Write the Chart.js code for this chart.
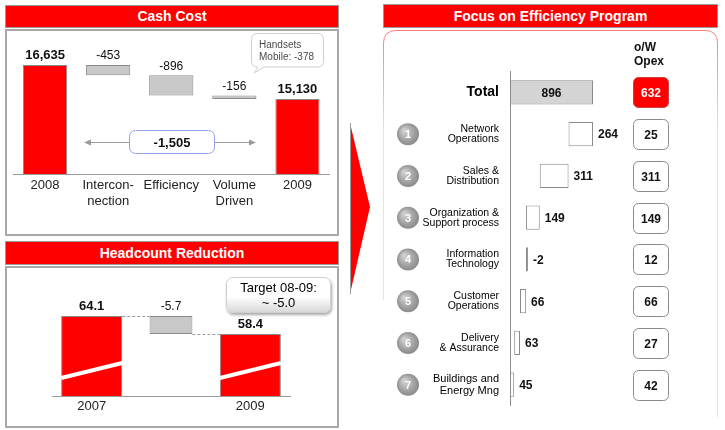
<!DOCTYPE html>
<html>
<head>
<meta charset="utf-8">
<script src="https://cdn.jsdelivr.net/npm/chart.js@4.4.1/dist/chart.umd.min.js"></script>
<style>
body { margin: 0; width: 725px; height: 430px; background: #fff; position: relative; overflow: hidden; font-family: 'Liberation Sans', Arial, sans-serif; }
.hdr { position: absolute; box-sizing: border-box; background: #ff0000; border: 1px solid #9a9a9a; color: #fff; font-weight: bold; font-size: 14px; text-align: center; }
.panel { position: absolute; box-sizing: border-box; border: 2px solid #a8a8a8; }
canvas { position: absolute; }
#target { position: absolute; left: 226px; top: 277px; width: 105px; height: 36px; box-sizing: border-box; border: 1px solid #d0d0d0; border-radius: 7px;
  background: linear-gradient(#fff 55%, #d8d8d8); box-shadow: 1px 2px 3px rgba(0,0,0,0.35); text-align: center; font-size: 13px; line-height: 15px; padding-top: 2px; color: #000; }
#opexHead { position: absolute; left: 634px; top: 40px; font-weight: bold; font-size: 12px; line-height: 14px; color: #111; }
</style>
</head>
<body>
<div class="hdr" style="left:5px;top:5px;width:334px;height:23px;line-height:21px">Cash Cost</div>
<div class="panel" style="left:5px;top:29px;width:334px;height:207px"></div>
<div class="hdr" style="left:5px;top:241px;width:334px;height:24px;line-height:22px">Headcount Reduction</div>
<div class="panel" style="left:5px;top:266px;width:334px;height:162px"></div>
<div class="hdr" style="left:383px;top:4px;width:335px;height:24px;line-height:22px">Focus on Efficiency Program</div>

<svg width="725" height="430" style="position:absolute;left:0;top:0">
  <defs>
    <linearGradient id="rim" gradientUnits="userSpaceOnUse" x1="0" y1="30" x2="0" y2="130">
      <stop offset="0" stop-color="#ff7a7a"/>
      <stop offset="1" stop-color="#e2e2e2"/>
    </linearGradient>
  </defs>
  <!-- right panel rim -->
  <path d="M383.5 300 L383.5 43 Q383.5 30.5 396 30.5 L705 30.5 Q717.5 30.5 717.5 43 L717.5 417" fill="none" stroke="url(#rim)" stroke-width="1"/>
  <!-- chevron -->
  <polygon points="350,123 370,207 350,294" fill="#ff0000"/>
  <line x1="350.5" y1="123" x2="350.5" y2="294" stroke="#999" stroke-width="1"/>
</svg>

<canvas id="cash" width="329" height="202" style="left:7px;top:31px"></canvas>
<canvas id="heads" width="329" height="157" style="left:7px;top:268px"></canvas>
<canvas id="eff" width="333" height="395" style="left:384px;top:30px"></canvas>

<svg width="725" height="430" style="position:absolute;left:0;top:0">
  <!-- total change arrow -->
  <line x1="90" y1="142.5" x2="129" y2="142.5" stroke="#9a9a9a" stroke-width="1"/>
  <line x1="215" y1="142.5" x2="250" y2="142.5" stroke="#9a9a9a" stroke-width="1"/>
  <polygon points="84,142.5 91,139.5 91,145.5" fill="#9a9a9a"/>
  <polygon points="256,142.5 249,139.5 249,145.5" fill="#9a9a9a"/>
  <rect x="129.5" y="130.5" width="85" height="23" rx="6" fill="#fff" stroke="#8ea2ee" stroke-width="1"/>
  <text x="172" y="147" text-anchor="middle" font-family="Liberation Sans, Arial" font-weight="bold" font-size="13" fill="#111">-1,505</text>
  <!-- handsets callout -->
  <path d="M257.5 33.5 L317.5 33.5 Q323.5 33.5 323.5 39.5 L323.5 61 Q323.5 67 317.5 67 L264 67 L254 73 L258 67 L257.5 67 Q251.5 67 251.5 61 L251.5 39.5 Q251.5 33.5 257.5 33.5 Z"
        fill="#fff" stroke="#cfcfcf" stroke-width="1"/>
  <text x="259" y="48" font-family="Liberation Sans, Arial" font-size="10" fill="#4a4a4a">Handsets</text>
  <text x="259" y="60" font-family="Liberation Sans, Arial" font-size="10" fill="#4a4a4a">Mobile: -378</text>
</svg>

<div id="target">Target 08-09:<br>~ -5.0</div>
<div id="opexHead">o/W<br>Opex</div>

<script>
const FONT = "'Liberation Sans', Arial, sans-serif";
const NARROW = "'Liberation Sans Narrow', 'Liberation Sans', Arial, sans-serif";

// cash cost waterfall
const cashCategories = ['2008', ['Intercon-', 'nection'], 'Efficiency', ['Volume', 'Driven'], '2009'];
const cashStart = 16635;
const cashDeltas = [-453, -896, -156];
const cashEnd = 15130;

// headcount
const hcCategories = ['2007', '', '2009'];
const hcStart = 64.1;
const hcDelta = -5.7;
const hcEnd = 58.4;

// efficiency program
const effLabels = ['Total', ['Network', 'Operations'], ['Sales &', 'Distribution'], ['Organization &', 'Support process'],
  ['Information', 'Technology'], ['Customer', 'Operations'], ['Delivery', '& Assurance'], ['Buildings and', 'Energy Mng']];
const effTotal = 896;
const effSavings = [264, 311, 149, -2, 66, 63, 45];
const opexValues = [632, 25, 311, 149, 12, 66, 27, 42];

const fmt = v => v.toLocaleString('en-US');

// build waterfall pieces
function waterfall(start, deltas) {
    const out = [];
    let level = start;
    deltas.forEach(d => {
        out.push([level + d, level]);
        level += d;
    });
    return out;
}

// value labels above bars
const topLabels = {
    id: 'topLabels',
    afterDatasetsDraw(chart) {
        const ctx = chart.ctx;
        ctx.save();
        ctx.textAlign = 'center';
        ctx.textBaseline = 'bottom';
        ctx.fillStyle = '#111';
        chart.data.datasets.forEach((ds, d) => {
            chart.getDatasetMeta(d).data.forEach((bar, i) => {
                if (ds.data[i] === null) return;
                const top = Math.min(bar.y, bar.base);
                ctx.font = ds.labelBold ? 'bold 13px ' + FONT : '12px ' + FONT;
                ctx.fillText(ds.valueLabels[i], bar.x, top - 3);
            });
        });
        ctx.restore();
    }
};

// cash cost chart
const cashDeltaBars = waterfall(cashStart, cashDeltas);
new Chart(document.getElementById('cash'), {
    type: 'bar',
    data: {
        labels: cashCategories,
        datasets: [
            {
                data: [cashStart, null, null, null, cashEnd],
                valueLabels: [fmt(cashStart), '', '', '', fmt(cashEnd)],
                labelBold: true,
                backgroundColor: '#ff0000',
                borderColor: '#8a8a8a',
                borderWidth: 1,
                borderSkipped: false,
                barPercentage: 0.7,
                categoryPercentage: 1,
                grouped: false
            },
            {
                data: [null, ...cashDeltaBars, null],
                valueLabels: ['', ...cashDeltas.map(fmt), ''],
                labelBold: false,
                backgroundColor: '#c8c8c8',
                borderColor: '#8a8a8a',
                borderWidth: 1,
                borderSkipped: false,
                barPercentage: 0.7,
                categoryPercentage: 1,
                grouped: false
            }
        ]
    },
    options: {
        responsive: false,
        animation: false,
        layout: { padding: { left: 6.5, right: 7, top: 0, bottom: 0 } },
        plugins: { legend: { display: false }, tooltip: { enabled: false } },
        scales: {
            x: {
                grid: { display: false, drawTicks: false },
                border: { color: '#9a9a9a' },
                ticks: { color: '#222', padding: 3, maxRotation: 0, autoSkip: false, font: { family: FONT, size: 13, lineHeight: 1.23 } },
                afterFit: s => { s.height = 59; }
            },
            y: { display: false, min: 11810, max: 18140 }
        }
    },
    plugins: [topLabels]
});

// headcount chart
const hcConnect = {
    id: 'hcConnect',
    afterDatasetsDraw(chart) {
        const ctx = chart.ctx;
        const bottom = chart.chartArea.bottom;
        const red = chart.getDatasetMeta(0).data;
        const gray = chart.getDatasetMeta(1).data[1];
        ctx.save();
        // white break stripes
        ctx.strokeStyle = '#fff';
        ctx.lineWidth = 4;
        [red[0], red[2]].forEach(b => {
            ctx.beginPath();
            ctx.moveTo(b.x - b.width / 2, bottom - 18);
            ctx.lineTo(b.x + b.width / 2, bottom - 33);
            ctx.stroke();
        });
        // dashed connectors
        ctx.strokeStyle = '#9a9a9a';
        ctx.lineWidth = 1;
        ctx.setLineDash([3, 2]);
        const gTop = Math.min(gray.y, gray.base), gBot = Math.max(gray.y, gray.base);
        ctx.beginPath();
        ctx.moveTo(red[0].x + red[0].width / 2, Math.round(red[0].y) + 0.5);
        ctx.lineTo(gray.x - gray.width / 2, Math.round(gTop) + 0.5);
        ctx.moveTo(gray.x + gray.width / 2, Math.round(gBot) + 0.5);
        ctx.lineTo(red[2].x - red[2].width / 2, Math.round(red[2].y) + 0.5);
        ctx.stroke();
        ctx.restore();
    }
};

new Chart(document.getElementById('heads'), {
    type: 'bar',
    data: {
        labels: hcCategories,
        datasets: [
            {
                data: [hcStart, null, hcEnd],
                valueLabels: [hcStart.toFixed(1), '', hcEnd.toFixed(1)],
                labelBold: true,
                backgroundColor: '#ff0000',
                borderColor: '#8a8a8a',
                borderWidth: 1,
                borderSkipped: false,
                barPercentage: 0.77,
                categoryPercentage: 1,
                grouped: false
            },
            {
                data: [null, [hcStart + hcDelta, hcStart], null],
                valueLabels: ['', hcDelta.toFixed(1), ''],
                labelBold: false,
                backgroundColor: '#c8c8c8',
                borderColor: '#8a8a8a',
                borderWidth: 1,
                borderSkipped: false,
                barPercentage: 0.54,
                categoryPercentage: 1,
                grouped: false
            }
        ]
    },
    options: {
        responsive: false,
        animation: false,
        layout: { padding: { left: 45, right: 46, top: 0, bottom: 0 } },
        plugins: { legend: { display: false }, tooltip: { enabled: false } },
        scales: {
            x: {
                grid: { display: false, drawTicks: false },
                border: { color: '#9a9a9a' },
                ticks: { color: '#222', padding: 3, maxRotation: 0, autoSkip: false, font: { family: FONT, size: 13 } },
                afterFit: s => { s.height = 29; }
            },
            y: { display: false, min: 38.77, max: 79.3 }
        }
    },
    plugins: [topLabels, hcConnect]
});

// efficiency program chart
const effBars = [[0, effTotal], ...waterfall(effTotal, effSavings.map(v => -v))];

const effDecor = {
    id: 'effDecor',
    afterDatasetsDraw(chart) {
        const ctx = chart.ctx;
        const yScale = chart.scales.y;
        const left = chart.chartArea.left;
        const bars = chart.getDatasetMeta(0).data;
        ctx.save();
        ctx.textBaseline = 'middle';
        // value labels
        bars.forEach((b, i) => {
            ctx.fillStyle = '#111';
            ctx.font = 'bold 12px ' + FONT;
            if (i === 0) {
                ctx.textAlign = 'center';
                ctx.fillText(fmt(effTotal), (b.x + b.base) / 2, b.y + 1);
            } else {
                ctx.textAlign = 'left';
                ctx.fillText(fmt(effSavings[i - 1]), Math.max(b.x, b.base) + 5, b.y + 1);
            }
        });
        // numbered circles
        for (let i = 1; i < effLabels.length; i++) {
            const cx = left - 102, cy = yScale.getPixelForValue(i);
            const g = ctx.createRadialGradient(cx - 4, cy - 4, 1, cx, cy, 12);
            g.addColorStop(0, '#d0d0d0');
            g.addColorStop(1, '#858585');
            ctx.beginPath();
            ctx.arc(cx, cy, 11, 0, Math.PI * 2);
            ctx.fillStyle = g;
            ctx.fill();
            ctx.fillStyle = '#fff';
            ctx.font = 'bold 11px ' + FONT;
            ctx.textAlign = 'center';
            ctx.fillText(String(i), cx, cy + 1);
        }
        // opex boxes
        opexValues.forEach((v, i) => {
            const x = left + 123.5, y = Math.round(yScale.getPixelForValue(i)) - 14.5;
            ctx.beginPath();
            ctx.roundRect(x, y, 35, 30, 5);
            ctx.fillStyle = i === 0 ? '#ff0000' : '#fff';
            ctx.fill();
            ctx.strokeStyle = i === 0 ? '#d04040' : '#8a8a8a';
            ctx.lineWidth = 1;
            ctx.stroke();
            ctx.fillStyle = i === 0 ? '#fff' : '#111';
            ctx.font = 'bold 12px ' + FONT;
            ctx.textAlign = 'center';
            ctx.fillText(fmt(v), x + 17.5, y + 16);
        });
        ctx.restore();
    }
};

new Chart(document.getElementById('eff'), {
    type: 'bar',
    data: {
        labels: effLabels,
        datasets: [{
            data: effBars,
            backgroundColor: effBars.map((b, i) => i === 0 ? '#d4d4d4' : '#ffffff'),
            borderColor: '#8a8a8a',
            borderWidth: 1,
            borderSkipped: false,
            minBarLength: 2,
            barPercentage: 0.58,
            categoryPercentage: 1
        }]
    },
    options: {
        indexAxis: 'y',
        responsive: false,
        animation: false,
        layout: { padding: { left: 0, right: 0, top: 41.5, bottom: 9.5 } },
        plugins: { legend: { display: false }, tooltip: { enabled: false } },
        scales: {
            x: { display: false, min: 0, max: 2234 },
            y: {
                grid: { display: false, drawTicks: false },
                border: { color: '#8a8a8a' },
                ticks: {
                    color: '#000',
                    padding: 11,
                    autoSkip: false,
                    font: ctx => ctx.index === 0
                        ? { family: NARROW, size: 14, weight: 'bold' }
                        : { family: NARROW, size: ctx.index === 7 ? 11 : 10.5, lineHeight: ctx.index === 7 ? 1.1 : 0.95 }
                },
                afterFit: s => { s.width = 126; }
            }
        }
    },
    plugins: [effDecor]
});
</script>
</body>
</html>
